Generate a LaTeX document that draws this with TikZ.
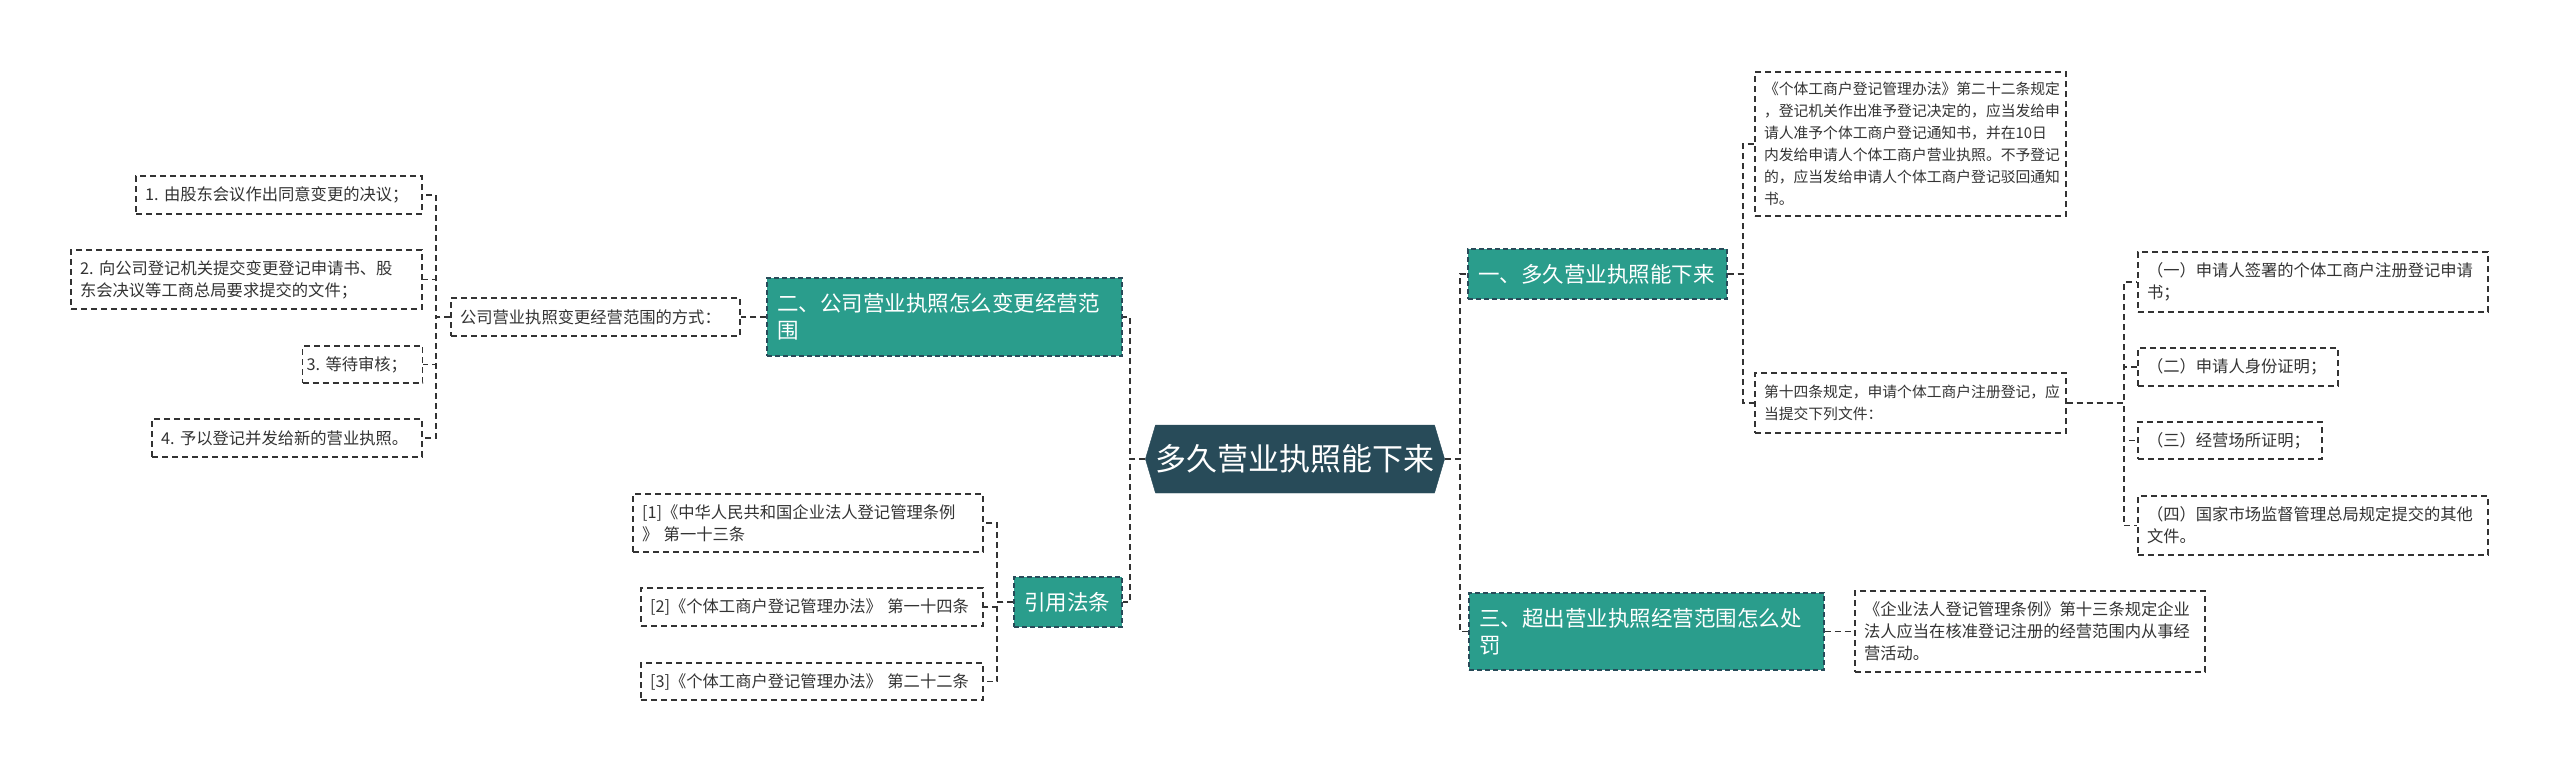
\documentclass[tikz,border=0pt]{standalone}
\usepackage{fontspec}
\setmainfont{Noto Sans CJK SC}
\usepackage{xcolor}
\usepackage{tikz}
\usetikzlibrary{shapes.symbols}
\definecolor{RootSlate}{HTML}{284B59}
\definecolor{BranchTeal}{HTML}{2A9D8C}
\definecolor{LineDark}{HTML}{333333}
\definecolor{TextDark}{HTML}{333333}
\tikzset{
  rootnode/.style={signal,signal to=west and east,signal pointer angle=147,
    fill=RootSlate,draw=RootSlate,minimum width=286pt,minimum height=68pt,inner sep=0pt,
    font=\fontsize{31}{36}\selectfont\color{white}},
  brnode/.style={draw=RootSlate,dash pattern=on 5pt off 3pt,line width=1.4pt,fill=BranchTeal,
    font=\fontsize{21.5}{27}\selectfont\color{white},align=left,inner xsep=10pt,inner ysep=0pt},
  lfnode/.style={draw=LineDark,dash pattern=on 6pt off 4pt,line width=1.6pt,fill=white,
    font=\fontsize{16.3}{22}\selectfont\color{TextDark},align=left,inner xsep=9pt,inner ysep=0pt},
  lfsmall/.style={lfnode,font=\fontsize{14.8}{22}\selectfont\color{TextDark}},
  edgeL/.style={draw=LineDark,dash pattern=on 6pt off 4pt,line width=1.8pt},
}
\begin{document}
\begin{tikzpicture}[x=1pt,y=-1pt]
  \useasboundingbox (0,0) rectangle (2560,772);
  \node[rootnode] (root) at (1295,459) {多久营业执照能下来};
  \node[brnode,text width=239pt,minimum height=50pt] (b1) at (1597.5,274) {一、多久营业执照能下来};
  \node[brnode,text width=335pt,minimum height=78pt] (b2) at (944.5,317) {二、公司营业执照怎么变更经营范\\围};
  \node[brnode,text width=335pt,minimum height=77pt] (b3) at (1646.5,631.5) {三、超出营业执照经营范围怎么处\\罚};
  \node[brnode,text width=88pt,minimum height=50pt] (b4) at (1068,602) {引用法条};
  \node[lfsmall,text width=293pt,minimum height=144pt] (l1) at (1910.5,144) {《个体工商户登记管理办法》第二十二条规定\\，登记机关作出准予登记决定的，应当发给申\\请人准予个体工商户登记通知书，并在10日\\内发给申请人个体工商户营业执照。不予登记\\的，应当发给申请人个体工商户登记驳回通知\\书。};
  \node[lfsmall,text width=293pt,minimum height=60pt] (l2) at (1910.5,403) {第十四条规定，申请个体工商户注册登记，应\\当提交下列文件：};
  \node[lfnode,text width=332pt,minimum height=60pt] (s1) at (2313,282) {（一）申请人签署的个体工商户注册登记申请\\书；};
  \node[lfnode,text width=182pt,minimum height=38pt] (s2) at (2238,367) {（二）申请人身份证明；};
  \node[lfnode,text width=166pt,minimum height=37pt] (s3) at (2230,440.5) {（三）经营场所证明；};
  \node[lfnode,text width=332pt,minimum height=59pt] (s4) at (2313,525.5) {（四）国家市场监督管理总局规定提交的其他\\文件。};
  \node[lfnode,text width=332pt,minimum height=81pt] (l3) at (2030,631.5) {《企业法人登记管理条例》第十三条规定企业\\法人应当在核准登记注册的经营范围内从事经\\营活动。};
  \node[lfnode,text width=271pt,minimum height=38pt] (m) at (595.5,317) {公司营业执照变更经营范围的方式：};
  \node[lfnode,text width=268pt,minimum height=38pt] (st1) at (279,195) {1.~由股东会议作出同意变更的决议；};
  \node[lfnode,text width=333pt,minimum height=59pt] (st2) at (246.5,279.5) {2.~向公司登记机关提交变更登记申请书、股\\东会决议等工商总局要求提交的文件；};
  \node[lfnode,text width=112pt,inner xsep=4pt,minimum height=37pt] (st3) at (362.5,364.5) {3.~等待审核；};
  \node[lfnode,text width=252pt,minimum height=38pt] (st4) at (287,438) {4.~予以登记并发给新的营业执照。};
  \node[lfnode,text width=332pt,minimum height=58pt] (r1) at (808,523) {[1]《中华人民共和国企业法人登记管理条例\\》 第一十三条};
  \node[lfnode,text width=324pt,minimum height=38pt] (r2) at (812,607) {[2]《个体工商户登记管理办法》 第一十四条};
  \node[lfnode,text width=324pt,minimum height=37pt] (r3) at (812,681.5) {[3]《个体工商户登记管理办法》 第二十二条};
  \draw[edgeL] (root.west) -- ++(-15,0) |- (b2.east);
  \draw[edgeL] (root.west) -- ++(-15,0) |- (b4.east);
  \draw[edgeL] (root.east) -- ++(15,0) |- (b1.west);
  \draw[edgeL] (root.east) -- ++(15,0) |- (b3.west);
  \draw[edgeL] (b1.east) -- ++(15,0) |- (l1.west);
  \draw[edgeL] (b1.east) -- ++(15,0) |- (l2.west);
  \draw[edgeL] (l2.east) -- ++(57,0) |- (s1.west);
  \draw[edgeL] (l2.east) -- ++(57,0) |- (s2.west);
  \draw[edgeL] (l2.east) -- ++(57,0) |- (s3.west);
  \draw[edgeL] (l2.east) -- ++(57,0) |- (s4.west);
  \draw[edgeL] (b3.east) -- (l3.west);
  \draw[edgeL] (b2.west) -- (m.east);
  \draw[edgeL] (m.west) -- ++(-14,0) |- (st1.east);
  \draw[edgeL] (m.west) -- ++(-14,0) |- (st2.east);
  \draw[edgeL] (m.west) -- ++(-14,0) |- (st3.east);
  \draw[edgeL] (m.west) -- ++(-14,0) |- (st4.east);
  \draw[edgeL] (b4.west) -- ++(-16,0) |- (r1.east);
  \draw[edgeL] (b4.west) -- ++(-16,0) |- (r2.east);
  \draw[edgeL] (b4.west) -- ++(-16,0) |- (r3.east);
\end{tikzpicture}
\end{document}
